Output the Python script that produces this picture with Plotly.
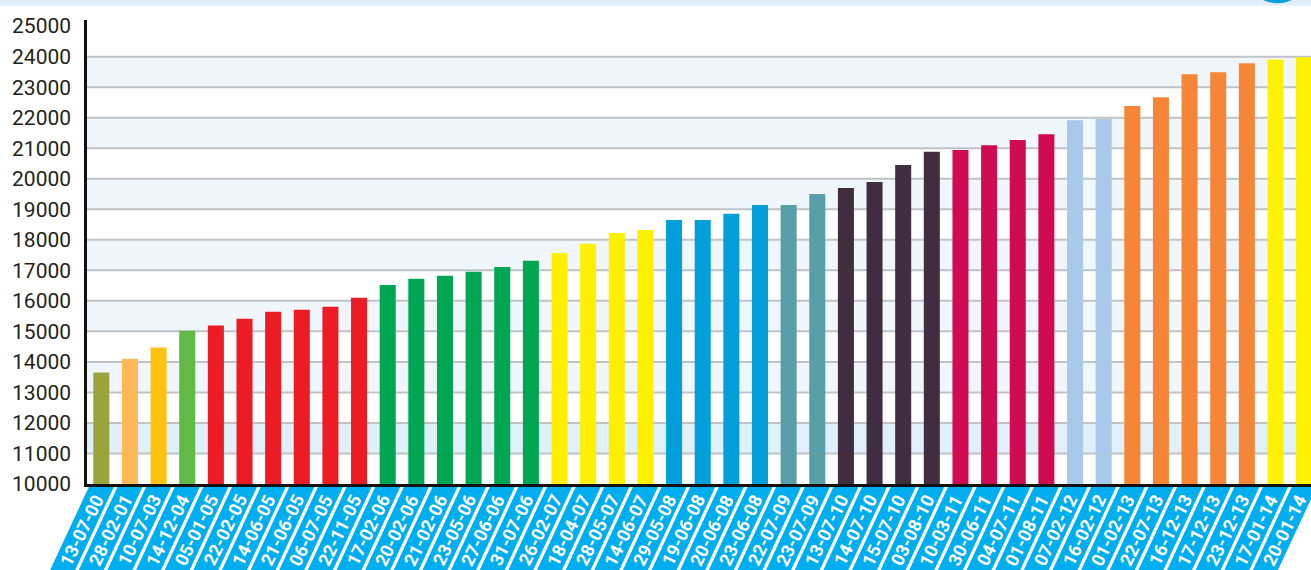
import plotly.graph_objects as go

dates = ["13-07-00", "28-02-01", "10-07-03", "14-12-04", "05-01-05", "22-02-05",
         "14-06-05", "21-06-05", "06-07-05", "22-11-05", "17-02-06", "20-02-06",
         "21-02-06", "23-05-06", "27-06-06", "31-07-06", "26-02-07", "18-04-07",
         "28-05-07", "14-06-07", "29-05-08", "19-06-08", "20-06-08", "23-06-08",
         "22-07-09", "23-07-09", "13-07-10", "14-07-10", "15-07-10", "03-08-10",
         "10-03-11", "30-06-11", "04-07-11", "01-08-11", "07-02-12", "16-02-12",
         "01-02-13", "22-07-13", "16-12-13", "17-12-13", "23-12-13", "17-01-14",
         "20-01-14"]

values = [13650, 14100, 14470, 15020, 15190, 15415, 15640, 15710, 15810, 16100,
          16520, 16720, 16820, 16950, 17110, 17310, 17570, 17870, 18220, 18320,
          18650, 18650, 18850, 19140, 19140, 19500, 19700, 19890, 20450, 20880,
          20940, 21100, 21270, 21460, 21920, 21960, 22380, 22670, 23420, 23490,
          23780, 23910, 23980]

colors = ["#9aa33c", "#fdb957", "#ffc20e", "#62b946"] + ["#ed1c24"] * 6 + \
         ["#00a651"] * 6 + ["#fff000"] * 4 + ["#039fdb"] * 4 + ["#5a9ea8"] * 2 + \
         ["#402e40"] * 4 + ["#cf0b52"] * 4 + ["#a9c9ea"] * 2 + ["#f58638"] * 5 + \
         ["#fff200"] * 2

y_ticks = list(range(10000, 25001, 1000))
y_ticktext = [str(v) for v in y_ticks]
grid_values = list(range(11000, 24001, 1000))
band_starts = list(range(11000, 24000, 2000))

x_range = [-0.5, 42.24]

fig = go.Figure()
fig.add_trace(go.Bar(x=dates, y=values, marker=dict(color=colors, line=dict(width=0)),
                     width=0.56, hoverinfo="x+y"))

shapes = []
# alternating light bands
for b in band_starts:
    shapes.append(dict(type="rect", xref="paper", yref="y", x0=0, x1=1, y0=b, y1=b + 1000,
                       fillcolor="#dff0fb" if b == 11000 else "#eff7fd",
                       line=dict(width=0), layer="below"))
# gridlines
for g in grid_values:
    shapes.append(dict(type="line", xref="paper", yref="y", x0=0, x1=1, y0=g, y1=g,
                       line=dict(color="#bfc2c6", width=2), layer="below"))
# label badges (parallelograms), anchored at each category's position on the axis
slant = 0.466
span = x_range[1] - x_range[0]
for i, d in enumerate(dates):
    top, bot = -3, -120
    half = 12.5
    path = (f"M {-half} {top} L {half} {top} "
            f"L {half + slant * (bot - top)} {bot} L {-half + slant * (bot - top)} {bot} Z")
    shapes.append(dict(type="path", xref="paper", yref="paper", xsizemode="pixel",
                       ysizemode="pixel", xanchor=(i - x_range[0]) / span, yanchor=0,
                       path=path, fillcolor="#00aeef", line=dict(width=0), layer="below"))
# top strip and corner circle
shapes.append(dict(type="rect", xref="paper", yref="paper", x0=-0.08, x1=1.01,
                   y0=1.0306, y1=1.06, fillcolor="#dff0fb", line=dict(width=0)))
shapes.append(dict(type="circle", xref="paper", yref="paper", x0=0.9453, x1=1.0,
                   y0=1.0362, y1=1.1805, fillcolor="#0aa0dc", line=dict(width=0)))

annotations = []
for i, d in enumerate(dates):
    annotations.append(dict(x=d, y=0, xref="x", yref="paper", text=d, showarrow=False,
                            xanchor="center", yanchor="middle",
                            textangle=-64, yshift=-46, xshift=-20,
                            font=dict(family="Roboto", size=18, color="white", weight="bold")))

fig.update_layout(
    width=1311, height=570,
    margin=dict(l=87, r=0, t=20, b=86),
    paper_bgcolor="white", plot_bgcolor="white",
    showlegend=False,
    shapes=shapes,
    annotations=annotations,
    xaxis=dict(type="category", range=x_range, showticklabels=False,
               showgrid=False, showline=True, linecolor="#111111", linewidth=2.5,
               ticks="", zeroline=False),
    yaxis=dict(range=[10000, 25200], tickvals=y_ticks, ticktext=y_ticktext,
               showgrid=False, zeroline=False,
               showline=True, linecolor="#111111", linewidth=2.5, ticks="",
               ticklabelstandoff=9,
               tickfont=dict(family="Roboto", size=21, color="#231f20")),
)

fig.write_html("out.html")
